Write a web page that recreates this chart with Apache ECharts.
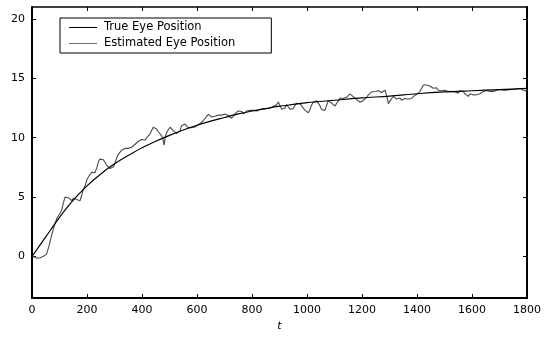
<!DOCTYPE html>
<html>
<head>
<meta charset="utf-8">
<script src="https://cdn.jsdelivr.net/npm/echarts@6/dist/echarts.min.js"></script>
<style>html,body{margin:0;padding:0;background:#fff}#c{width:549px;height:337px}</style>
</head>
<body>
<div id="c"></div>
<script>
const seriesNames = ['True Eye Position', 'Estimated Eye Position'];
const xTicks = [0, 200, 400, 600, 800, 1000, 1200, 1400, 1600, 1800];
const yTicks = [0, 5, 10, 15, 20];

const trueT = [0, 50, 100, 150, 200, 250, 300, 350, 400, 450, 500, 550, 600, 650, 700, 750, 800, 850, 900, 950, 1000, 1100, 1200, 1300, 1400, 1500, 1600, 1700, 1800];
const trueV = [0, 1.65, 3.3, 4.75, 5.95, 6.95, 7.8, 8.5, 9.15, 9.7, 10.2, 10.65, 11.05, 11.4, 11.7, 12.0, 12.25, 12.45, 12.65, 12.8, 12.95, 13.15, 13.35, 13.5, 13.7, 13.85, 13.95, 14.05, 14.15];

const estT = [0,10,20,30,40,53,62,72,80,90,98,108,114,120,126,132,138,145,150,156,162,168,175,181,187,194,200,211,218,223,229,236,242,247,253,259,265,271,277,284,290,296,302,308,314,320,326,332,338,344,350,356,362,368,375,381,387,393,399,405,411,417,423,429,435,441,447,453,459,465,470,475,480,485,490,496,502,508,514,520,526,532,538,544,550,556,562,568,575,581,587,593,599,605,611,617,623,629,635,641,647,653,659,665,671,678,684,690,696,702,708,714,720,726,732,738,744,750,757,763,769,775,781,787,793,799,805,811,817,823,829,835,841,847,853,859,865,871,877,884,890,896,902,908,914,920,926,932,938,944,950,956,962,968,975,981,987,993,999,1005,1011,1017,1023,1029,1035,1041,1047,1053,1059,1065,1071,1077,1084,1090,1096,1102,1108,1114,1120,1126,1132,1138,1144,1150,1156,1162,1168,1175,1181,1187,1193,1199,1205,1211,1217,1223,1229,1235,1241,1247,1253,1259,1265,1271,1277,1284,1290,1293,1296,1302,1308,1314,1320,1326,1332,1338,1344,1350,1356,1362,1368,1374,1381,1387,1393,1399,1405,1411,1417,1423,1429,1435,1441,1447,1453,1459,1465,1471,1477,1483,1490,1496,1502,1508,1514,1520,1526,1532,1538,1544,1550,1556,1562,1568,1574,1580,1587,1593,1599,1605,1611,1617,1623,1629,1635,1641,1647,1653,1659,1665,1672,1678,1684,1690,1696,1702,1708,1714,1720,1726,1732,1738,1744,1750,1756,1762,1769,1775,1781,1787,1793,1800];
const estV = [0,-0.05,-0.15,-0.1,0.0,0.2,0.9,1.86,2.5,3.2,3.5,3.9,4.5,5.0,4.85,4.95,4.87,4.7,4.9,4.75,4.8,4.95,4.7,5.2,5.69,6.0,6.5,6.9,7.1,6.95,7.05,7.5,8.0,8.2,8.3,8.15,7.95,7.7,7.6,7.4,7.33,7.55,7.87,8.3,8.6,8.75,8.95,9.0,9.1,9.15,9.1,9.24,9.2,9.3,9.45,9.5,9.7,9.6,9.85,9.92,9.8,10.0,10.06,10.3,10.6,10.88,10.75,10.74,10.5,10.35,10.2,10.0,9.38,10.1,10.47,10.6,10.88,10.75,10.6,10.47,10.35,10.25,10.6,11.0,11.1,11.15,11.0,10.85,10.74,10.85,11.0,10.9,11.0,11.1,11.25,11.3,11.43,11.6,11.8,11.97,11.9,11.75,11.7,11.8,11.75,11.9,11.83,11.9,11.85,12.0,11.97,11.85,11.75,11.64,11.8,12.0,12.1,12.25,12.15,12.2,12.0,12.1,12.25,12.15,12.3,12.2,12.3,12.4,12.25,12.35,12.38,12.3,12.45,12.35,12.45,12.38,12.5,12.45,12.6,12.57,12.8,13.0,12.7,12.4,12.25,12.5,12.79,12.6,12.4,12.25,12.45,12.7,12.9,13.0,12.85,12.66,12.5,12.3,12.2,12.1,12.4,12.75,13.0,12.95,13.1,13.07,12.7,12.38,12.25,12.3,12.7,13.1,13.07,12.9,12.75,12.66,12.9,13.1,13.34,13.25,13.3,13.2,13.4,13.55,13.69,13.6,13.45,13.34,13.2,13.1,12.98,13.05,13.15,13.2,13.4,13.6,13.75,13.85,13.8,13.89,13.8,13.95,13.89,13.8,13.95,14.0,13.9,13.2,12.87,13.1,13.3,13.48,13.35,13.25,13.2,13.35,13.15,13.2,13.3,13.15,13.26,13.35,13.3,13.48,13.55,13.65,13.75,13.9,14.16,14.43,14.57,14.43,14.43,14.35,14.25,14.16,14.1,14.2,14.0,14.1,13.95,14.07,14.0,13.95,13.89,14.05,13.9,14.0,13.85,13.9,13.75,13.95,13.85,13.89,13.7,13.55,13.48,13.7,13.75,13.6,13.7,13.61,13.75,13.7,13.8,13.9,13.85,13.97,13.85,13.9,13.75,13.9,13.95,14.0,13.9,14.05,13.95,14.0,14.1,14.0,14.16,14.05,14.15,14.07,14.2,14.1,14.24,14.15,14.1,14.0,14.1,13.9];

const FONT = 'DejaVu Sans';
const chart = echarts.init(document.getElementById('c'), null, {renderer: 'canvas'});
const plain = v => String(v);
chart.setOption({
  animation: false,
  backgroundColor: '#fff',
  textStyle: {fontFamily: FONT},
  grid: {left: 32, right: 22, top: 7, height: 299, containLabel: false},
  legend: {
    orient: 'vertical', left: 60, top: 18,
    data: seriesNames.map(n => ({name: n, icon: 'rect'})),
    borderColor: '#000', borderWidth: 1, borderRadius: 0,
    padding: [3, 36, 3, 9], itemGap: 3, itemWidth: 28, itemHeight: 1,
    textStyle: {fontFamily: FONT, fontSize: 11.5, color: '#000', padding: [0, 0, 0, 2], lineHeight: 13}
  },
  xAxis: [{
    type: 'value', min: 0, max: 1800, interval: 200, position: 'bottom',
    name: 't', nameLocation: 'middle', nameGap: 17,
    nameTextStyle: {fontStyle: 'italic', fontFamily: FONT, fontSize: 11, color: '#000'},
    axisLine: {onZero: false, lineStyle: {color: '#000', width: 2}},
    axisTick: {inside: true, length: 4, lineStyle: {color: '#000'}, customValues: xTicks},
    axisLabel: {customValues: xTicks, formatter: plain, margin: 7, fontFamily: FONT, fontSize: 11, color: '#000'},
    splitLine: {show: false}
  }, {
    type: 'value', min: 0, max: 1800, interval: 200, position: 'top',
    axisLine: {onZero: false, lineStyle: {color: '#000', width: 1.5}},
    axisTick: {inside: true, length: 4, lineStyle: {color: '#000'}, customValues: xTicks},
    axisLabel: {show: false}, splitLine: {show: false}
  }],
  yAxis: [{
    type: 'value', min: -3.5, max: 21, position: 'left',
    axisLine: {show: true, onZero: false, lineStyle: {color: '#000', width: 2}},
    axisTick: {show: true, inside: true, length: 4, lineStyle: {color: '#000'}, customValues: yTicks},
    axisLabel: {customValues: yTicks, formatter: plain, margin: 7, fontFamily: FONT, fontSize: 11, color: '#000'},
    splitLine: {show: false}
  }, {
    type: 'value', min: -3.5, max: 21, position: 'right',
    axisLine: {show: true, onZero: false, lineStyle: {color: '#000', width: 2}},
    axisTick: {show: true, inside: true, length: 4, lineStyle: {color: '#000'}, customValues: yTicks},
    axisLabel: {show: false}, splitLine: {show: false}
  }],
  series: [{
    name: seriesNames[0], type: 'line', symbol: 'none', z: 3,
    data: trueT.map((t, i) => [t, trueV[i]]),
    lineStyle: {color: '#000', width: 1.2}, itemStyle: {color: '#000'}, smooth: 0.3
  }, {
    name: seriesNames[1], type: 'line', symbol: 'none', z: 2,
    data: estT.map((t, i) => [t, estV[i]]),
    lineStyle: {color: '#4a4a4a', width: 1.1}, itemStyle: {color: '#6a6a6a'}
  }]
});
</script>
</body>
</html>
